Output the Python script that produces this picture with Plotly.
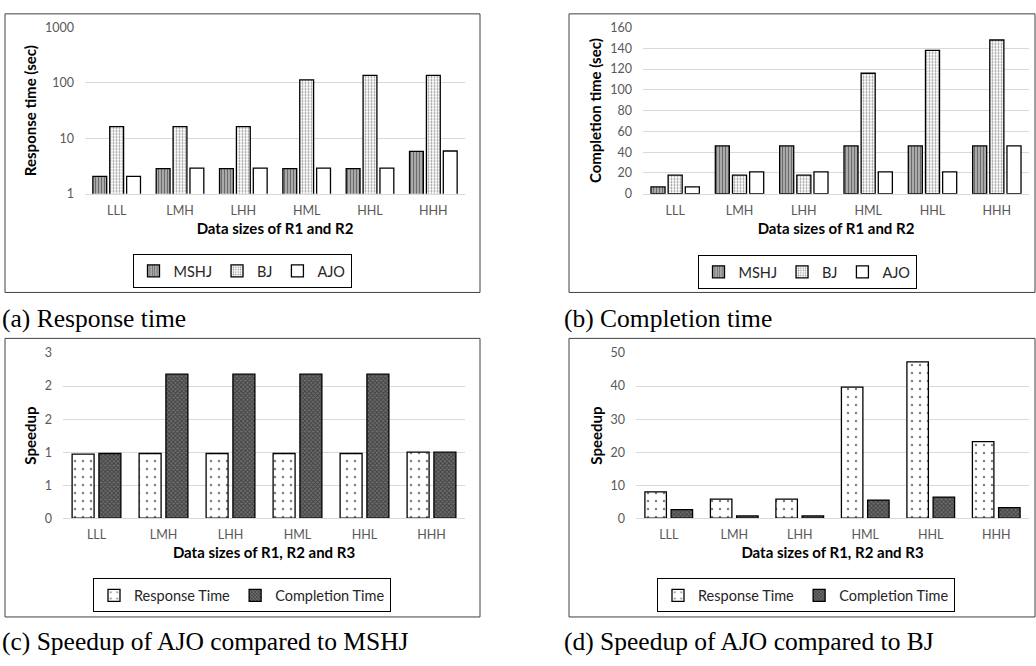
import plotly.graph_objects as go

W, H = 1036, 666

categories = ["LLL", "LMH", "LHH", "HML", "HHL", "HHH"]

# (a) Response time (sec), log scale
resp_mshj = [2.05, 2.85, 2.85, 2.85, 2.85, 5.8]
resp_bj = [16.3, 16.3, 16.3, 114, 137, 137]
resp_ajo = [2.05, 2.9, 2.9, 2.9, 2.9, 5.9]

# (b) Completion time (sec)
comp_mshj = [6.5, 46, 46, 46, 46, 46]
comp_bj = [18, 18, 18, 116, 138, 148]
comp_ajo = [6.5, 21, 21, 21, 21, 46]

# (c) Speedup of AJO compared to MSHJ
spc_resp = [0.97, 0.98, 0.98, 0.98, 0.98, 1.0]
spc_comp = [0.98, 2.18, 2.18, 2.18, 2.18, 1.0]
spc_ticks = [0, 0.5, 1, 1.5, 2, 2.5]
spc_ticktext = ["0", "1", "1", "2", "2", "3"]

# (d) Speedup of AJO compared to BJ
spd_resp = [8.0, 5.8, 5.8, 39.7, 47.3, 23.2]
spd_comp = [2.6, 0.7, 0.7, 5.5, 6.4, 3.2]

FONT = "Lato"
TICKC = "#595959"
GRID = "#d9d9d9"

def px_x(x):
    return x / W

def px_y(y):
    return 1 - y / H

mshj_pat = dict(shape="|", fgcolor="#1a1a1a", bgcolor="#bdbdbd", size=3, solidity=0.5)
bj_pat = dict(shape=".", fgcolor="#222222", bgcolor="#ffffff", size=3, solidity=0.3)
ajo_pat = dict(shape="", bgcolor="white")
rt_pat = dict(shape=".", fgcolor="black", bgcolor="#ffffff", size=8, solidity=0.08)
ct_pat = dict(shape="x", fgcolor="#111111", bgcolor="#6e6e6e", size=3, solidity=0.5)

fig = go.Figure()

def add_bar(name, y, xa, ya, pat, legend, showlegend=True):
    fig.add_trace(go.Bar(
        x=categories, y=y, name=name, xaxis=xa, yaxis=ya,
        marker=dict(color="white", pattern=pat, line=dict(color="black", width=1.3)),
        legend=legend, showlegend=showlegend,
    ))

add_bar("MSHJ", resp_mshj, "x", "y", mshj_pat, "legend")
add_bar("BJ", resp_bj, "x", "y", bj_pat, "legend")
add_bar("AJO", resp_ajo, "x", "y", ajo_pat, "legend")

add_bar("MSHJ", comp_mshj, "x2", "y2", mshj_pat, "legend2")
add_bar("BJ", comp_bj, "x2", "y2", bj_pat, "legend2")
add_bar("AJO", comp_ajo, "x2", "y2", ajo_pat, "legend2")

add_bar("Response Time", spc_resp, "x3", "y3", rt_pat, "legend3")
add_bar("Completion Time", spc_comp, "x3", "y3", ct_pat, "legend3")

add_bar("Response Time", spd_resp, "x4", "y4", rt_pat, "legend4")
add_bar("Completion Time", spd_comp, "x4", "y4", ct_pat, "legend4")

tickfont = dict(family=FONT, size=12.5, color=TICKC)
titlefont = dict(family=FONT, size=15, color="black", weight="bold")

def xaxis(domain, anchor, title):
    return dict(domain=domain, anchor=anchor, type="category",
                showline=True, linecolor=GRID, linewidth=1, showgrid=False,
                ticks="", ticklabelstandoff=5, tickfont=tickfont,
                title=dict(text=title, font=titlefont, standoff=6))

def yaxis(domain, anchor, title, **kw):
    d = dict(domain=domain, anchor=anchor, showline=False, showgrid=True,
             gridcolor=GRID, gridwidth=1, zeroline=False, ticks="",
             ticklabelstandoff=10, tickfont=tickfont,
             title=dict(text=title, font=titlefont, standoff=4))
    d.update(kw)
    return d

ytop_dom = [px_y(190), px_y(20)]
ybot_dom = [px_y(522), px_y(353)]

fig.update_layout(
    width=W, height=H,
    margin=dict(l=0, r=0, t=0, b=0),
    paper_bgcolor="white", plot_bgcolor="white",
    barmode="group",
    bargap=0.2, bargroupgap=0.18,
    xaxis=xaxis([px_x(85), px_x(465)], "y", "Data sizes of R1 and R2"),
    yaxis=yaxis(ytop_dom, "x", "Response time (sec)", type="log", range=[0, 3],
                tickvals=[1, 10, 100, 1000], ticktext=["1", "10", "100", "1000"]),
    xaxis2=xaxis([px_x(643), px_x(1029)], "y2", "Data sizes of R1 and R2"),
    yaxis2=yaxis(ytop_dom, "x2", "Completion time (sec)", range=[0, 160], dtick=20),
    xaxis3=xaxis([px_x(63), px_x(465)], "y3", "Data sizes of R1, R2 and R3"),
    yaxis3=yaxis(ybot_dom, "x3", "Speedup", range=[0, 2.5],
                 tickvals=spc_ticks, ticktext=spc_ticktext),
    xaxis4=xaxis([px_x(636), px_x(1029)], "y4", "Data sizes of R1, R2 and R3"),
    yaxis4=yaxis(ybot_dom, "x4", "Speedup", range=[0, 50], dtick=10),
)

def legend_cfg(xc, yc):
    return dict(orientation="h", x=px_x(xc), y=px_y(yc), xanchor="center", yanchor="middle",
                bordercolor="black", borderwidth=1, bgcolor="white",
                font=dict(family=FONT, size=14.5, color="#262626"),
                itemwidth=30, tracegroupgap=0, traceorder="normal")

fig.update_layout(
    legend=legend_cfg(242, 269),
    legend2=legend_cfg(807, 270),
    legend3=legend_cfg(242, 601),
    legend4=legend_cfg(806, 601),
)

# panel borders
boxes = [(5, 6, 480, 291), (569, 6, 1035, 291), (5, 338, 480, 623), (569, 338, 1035, 623)]
for x0, y0, x1, y1 in boxes:
    fig.add_shape(type="rect", xref="paper", yref="paper",
                  x0=px_x(x0), x1=px_x(x1), y0=px_y(y1), y1=px_y(y0),
                  line=dict(color="#404040", width=1), fillcolor="rgba(0,0,0,0)", layer="below")

captions = [("(a) Response time", 0, 318), ("(b) Completion time", 562, 318),
            ("(c) Speedup of AJO compared to MSHJ", 0, 648),
            ("(d) Speedup of AJO compared to BJ", 562, 648)]
for text, x, y in captions:
    fig.add_annotation(text=text, xref="paper", yref="paper", x=px_x(x), y=px_y(y),
                       xanchor="left", yanchor="middle", showarrow=False,
                       font=dict(family="Liberation Serif", size=25.5, color="black"))

fig.write_html("out.html")
